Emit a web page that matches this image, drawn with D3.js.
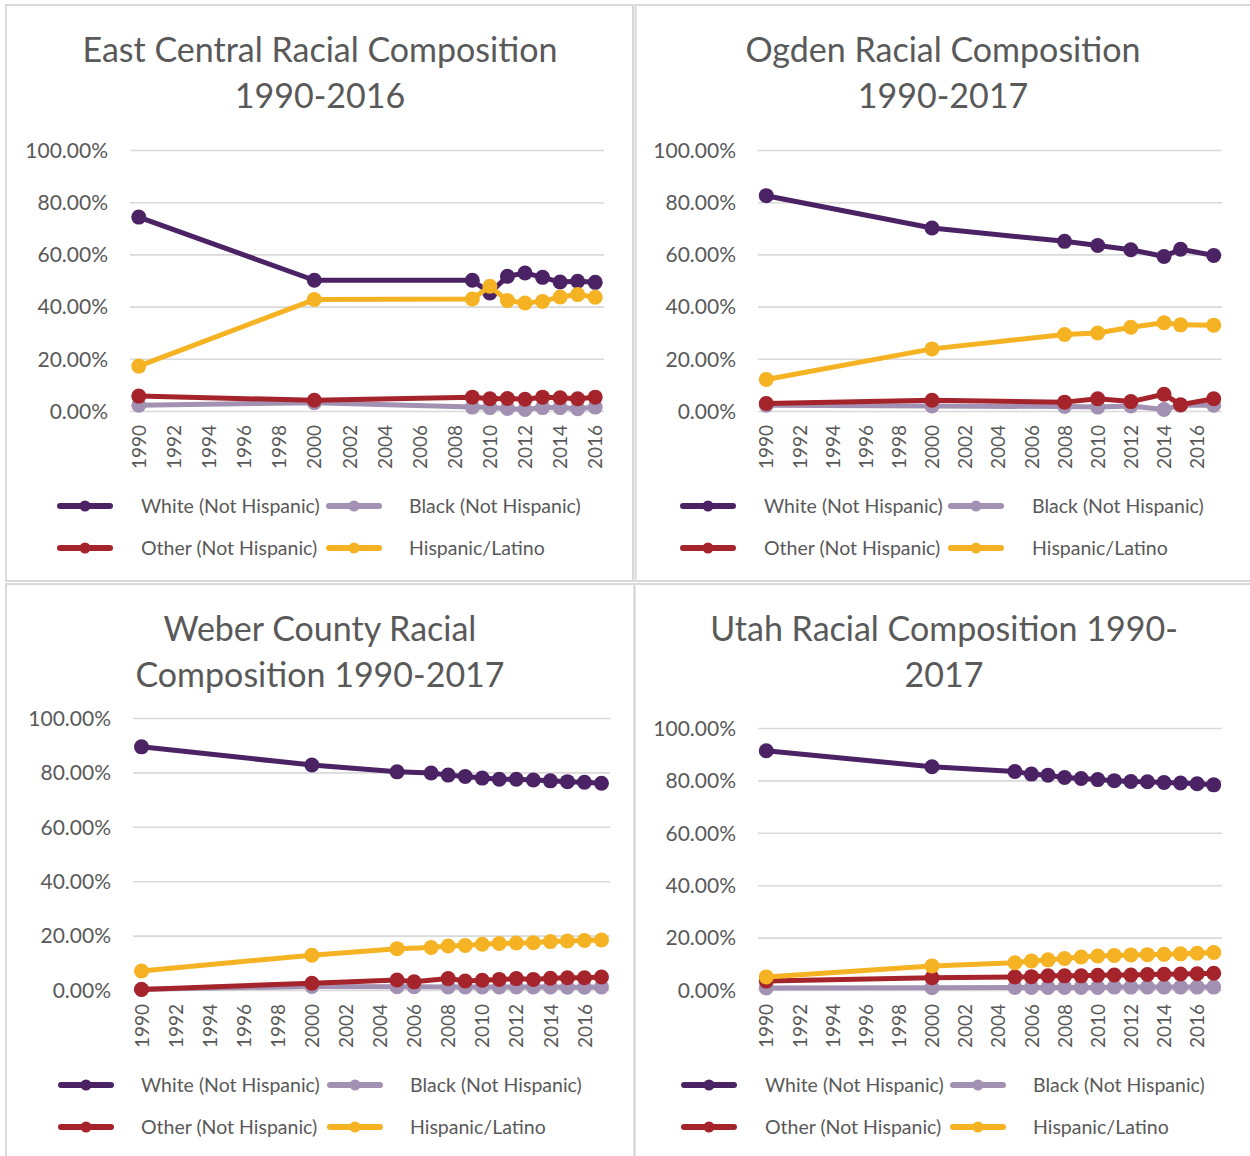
<!DOCTYPE html>
<meta charset="utf-8">
<script src="https://d3js.org/d3.v7.min.js"></script>
<style>
  * {margin: 0; padding: 0;}
  body {background: #fff;}
  .title {font-family: Lato, sans-serif; font-size: 34px; fill: #595959;}
  .ytick text {font-family: Lato, sans-serif; font-size: 21px; fill: #595959;}
  .xtick text {font-family: Lato, sans-serif; font-size: 19px; fill: #595959;}
  .legend text {font-family: Lato, sans-serif; font-size: 19.5px; fill: #595959;}
</style>
<body>
<div id="chart"></div>
<script>

// series names and colours (same for the four charts)
var seriesNames = ["White (Not Hispanic)", "Black (Not Hispanic)", "Other (Not Hispanic)", "Hispanic/Latino"];
var seriesColors = ["#4b2365", "#a291b3", "#a5242b", "#f5b323"];
var yTicks = [0, 20, 40, 60, 80, 100];

// East Central 1990-2016
var ecYears = [1990, 2000, 2009, 2010, 2011, 2012, 2013, 2014, 2015, 2016];
var ecWhite = [74.3, 50.1, 50.1, 45.2, 51.6, 52.9, 51.2, 49.4, 49.7, 49.3];
var ecBlack = [2.2, 3.2, 1.5, 1.3, 1.0, 0.6, 1.3, 1.3, 0.9, 1.5];
var ecOther = [5.7, 4.1, 5.3, 4.7, 4.8, 4.5, 5.3, 5.1, 4.7, 5.3];
var ecHispanic = [17.2, 42.7, 42.9, 47.8, 42.3, 41.4, 42.0, 43.7, 44.6, 43.6];

// Ogden 1990-2017
var ogYears = [1990, 2000, 2008, 2010, 2012, 2014, 2015, 2017];
var ogWhite = [82.5, 70.1, 65.0, 63.4, 61.8, 59.2, 62.0, 59.6];
var ogBlack = [2.2, 1.9, 1.7, 1.5, 1.9, 0.6, 2.2, 2.2];
var ogOther = [2.9, 4.1, 3.4, 4.7, 3.6, 6.4, 2.4, 4.7];
var ogHispanic = [12.1, 23.8, 29.3, 29.9, 32.1, 33.8, 33.0, 32.9];

// Weber County 1990-2017 (white/hispanic have 2007, black/other have 2006)
var wbYearsA = [1990, 2000, 2005, 2007, 2008, 2009, 2010, 2011, 2012, 2013, 2014, 2015, 2016, 2017];
var wbYearsB = [1990, 2000, 2005, 2006, 2008, 2009, 2010, 2011, 2012, 2013, 2014, 2015, 2016, 2017];
var wbWhite = [89.4, 82.7, 80.2, 79.8, 79.0, 78.5, 77.9, 77.5, 77.5, 77.2, 76.9, 76.6, 76.4, 76.0];
var wbBlack = [0.3, 1.3, 1.2, 1.2, 1.1, 1.1, 1.1, 1.1, 1.1, 1.1, 1.1, 1.0, 1.0, 1.1];
var wbOther = [0.2, 2.5, 3.7, 3.0, 4.2, 3.3, 3.6, 3.9, 4.2, 3.9, 4.3, 4.5, 4.5, 4.8];
var wbHispanic = [7.0, 12.8, 15.2, 15.6, 16.2, 16.4, 16.8, 17.1, 17.3, 17.4, 17.8, 18.0, 18.2, 18.4];

// Utah 1990-2017
var utYears = [1990, 2000, 2005, 2006, 2007, 2008, 2009, 2010, 2011, 2012, 2013, 2014, 2015, 2016, 2017];
var utWhite = [91.3, 85.2, 83.4, 82.4, 82.0, 81.1, 80.7, 80.3, 79.9, 79.6, 79.5, 79.2, 79.0, 78.7, 78.3];
var utBlack = [0.8, 0.9, 1.0, 1.0, 1.0, 1.0, 1.0, 1.0, 1.1, 1.1, 1.1, 1.1, 1.1, 1.1, 1.1];
var utOther = [3.4, 4.7, 5.0, 5.1, 5.4, 5.4, 5.4, 5.6, 5.7, 5.7, 5.9, 6.0, 6.1, 6.2, 6.4];
var utHispanic = [5.0, 9.2, 10.4, 11.1, 11.5, 12.0, 12.6, 13.0, 13.2, 13.4, 13.5, 13.6, 13.8, 14.0, 14.3];

var panels = [
  {title: ["East Central Racial Composition", "1990-2016"], first: 1990, last: 2016,
   years: [ecYears, ecYears, ecYears, ecYears], values: [ecWhite, ecBlack, ecOther, ecHispanic],
   box: [6, 5, 627, 576], left: 130, right: 604, top: 150, bottom: 411, titleX: 320, titleY: 50,
   tickX: 108, yearY: 425, legY: 506, legX: [57, 326], legTextX: [141, 409]},
  {title: ["Ogden Racial Composition", "1990-2017"], first: 1990, last: 2017,
   years: [ogYears, ogYears, ogYears, ogYears], values: [ogWhite, ogBlack, ogOther, ogHispanic],
   box: [635.5, 5, 620, 576], left: 758, right: 1222, top: 150, bottom: 411, titleX: 943, titleY: 50,
   tickX: 736, yearY: 425, legY: 506, legX: [680, 948], legTextX: [764, 1032]},
  {title: ["Weber County Racial", "Composition 1990-2017"], first: 1990, last: 2017,
   years: [wbYearsA, wbYearsB, wbYearsB, wbYearsA], values: [wbWhite, wbBlack, wbOther, wbHispanic],
   box: [6, 584, 628.5, 580], left: 133, right: 610, top: 718, bottom: 990, titleX: 320, titleY: 629,
   tickX: 111, yearY: 1004, legY: 1085, legX: [58, 327], legTextX: [141, 410]},
  {title: ["Utah Racial Composition 1990-", "2017"], first: 1990, last: 2017,
   years: [utYears, utYears, utYears, utYears], values: [utWhite, utBlack, utOther, utHispanic],
   box: [634.5, 584, 620, 580], left: 758, right: 1222, top: 728, bottom: 990, titleX: 944, titleY: 629,
   tickX: 736, yearY: 1004, legY: 1085, legX: [681, 950], legTextX: [765, 1033]}
];

var svg = d3.select("#chart")
  .append("svg")
    .attr("width", 1250)
    .attr("height", 1156)
    .style("display", "block");

svg.append("rect").attr("width", 1250).attr("height", 1156).attr("fill", "#fff");

panels.forEach(function(p) {
  var g = svg.append("g");

  g.append("rect")
    .attr("x", p.box[0]).attr("y", p.box[1])
    .attr("width", p.box[2]).attr("height", p.box[3])
    .attr("fill", "none")
    .attr("stroke", "#d9d9d9")
    .attr("stroke-width", 2);

  // title, two lines
  g.selectAll(".title")
    .data(p.title)
    .enter()
    .append("text")
      .attr("class", "title")
      .attr("x", p.titleX)
      .attr("y", function(d, i) { return p.titleY + i * 46; })
      .attr("dy", "0.35em")
      .attr("text-anchor", "middle")
      .text(function(d) { return d; });

  var x = d3.scaleLinear()
    .domain([p.first - 0.5, p.last + 0.5])
    .range([p.left, p.right]);

  var y = d3.scaleLinear()
    .domain([0, 100])
    .range([p.bottom, p.top]);

  // gridlines + y labels
  var yAxis = g.append("g")
    .attr("class", "ytick")
    .attr("transform", "translate(" + p.left + ",0)")
    .call(d3.axisRight(y)
      .tickValues(yTicks)
      .tickSize(p.right - p.left)
      .tickFormat(function(d) { return d3.format(".2f")(d) + "%"; }));
  yAxis.select(".domain").remove();
  yAxis.selectAll("line").attr("stroke", "#d9d9d9").attr("stroke-width", 1.6);
  yAxis.selectAll("text")
    .attr("x", p.tickX - p.left)
    .attr("text-anchor", "end")
    .attr("dy", "0.35em");

  // rotated year labels
  var xAxis = g.append("g")
    .attr("class", "xtick")
    .attr("transform", "translate(0," + p.yearY + ")")
    .call(d3.axisBottom(x)
      .tickValues(d3.range(p.first, p.last + 1, 2))
      .tickSize(0)
      .tickFormat(d3.format("d")));
  xAxis.select(".domain").remove();
  xAxis.selectAll("text")
    .attr("y", 0)
    .attr("x", 0)
    .attr("dy", "0.35em")
    .attr("transform", "rotate(-90)")
    .attr("text-anchor", "end");

  // series: line then markers, one series after another
  p.values.forEach(function(vals, k) {
    var pts = vals.map(function(v, i) { return {year: p.years[k][i], value: v}; });
    g.append("path")
      .datum(pts)
      .attr("d", d3.line()
        .x(function(d) { return x(d.year); })
        .y(function(d) { return y(d.value); }))
      .attr("fill", "none")
      .attr("stroke", seriesColors[k])
      .attr("stroke-width", 5)
      .attr("stroke-linejoin", "round");
    g.selectAll(".dot" + k)
      .data(pts)
      .enter()
      .append("circle")
        .attr("class", "dot" + k)
        .attr("cx", function(d) { return x(d.year); })
        .attr("cy", function(d) { return y(d.value); })
        .attr("r", 7.5)
        .attr("fill", seriesColors[k]);
  });

  // legend, 2 x 2
  var leg = g.append("g").attr("class", "legend");
  seriesNames.forEach(function(name, k) {
    var col = k % 2, row = Math.floor(k / 2);
    var ly = p.legY + row * 42;
    var lx = p.legX[col];
    leg.append("line")
      .attr("x1", lx + 3).attr("x2", lx + 53)
      .attr("y1", ly).attr("y2", ly)
      .attr("stroke", seriesColors[k])
      .attr("stroke-width", 6)
      .attr("stroke-linecap", "round");
    leg.append("circle")
      .attr("cx", lx + 28).attr("cy", ly)
      .attr("r", 5.5)
      .attr("fill", seriesColors[k]);
    leg.append("text")
      .attr("x", p.legTextX[col])
      .attr("y", ly)
      .attr("dy", "0.35em")
      .text(name);
  });
});

</script>
</body>
